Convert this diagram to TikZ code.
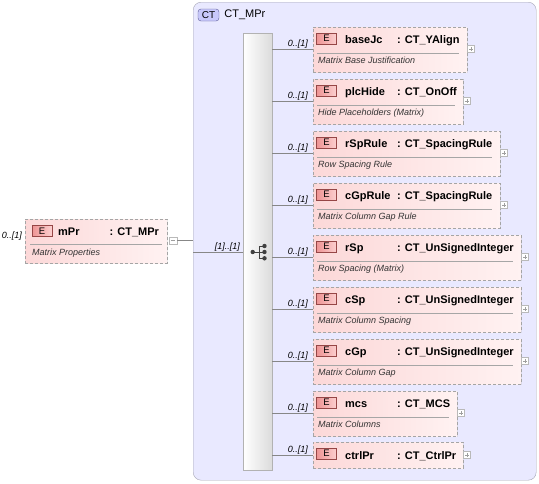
\documentclass[tikz,border=0pt]{standalone}
\usepackage{fontspec}
\setmainfont{Liberation Sans}
\usetikzlibrary{positioning,shadows}
\definecolor{ctfill}{RGB}{233,233,255}
\definecolor{ctedge}{RGB}{165,165,180}
\definecolor{elleft}{RGB}{252,216,216}
\definecolor{elright}{RGB}{255,242,242}
\definecolor{eledge}{RGB}{165,165,165}
\definecolor{badgeleft}{RGB}{238,148,148}
\definecolor{badgeright}{RGB}{252,208,208}
\definecolor{badgeedge}{RGB}{150,70,70}
\definecolor{ctbadgefill}{RGB}{200,200,250}
\definecolor{ctbadgeedge}{RGB}{90,90,150}
\definecolor{wire}{RGB}{135,135,135}

\tikzset{
	ctframe/.style={rectangle, rounded corners=8pt, draw=ctedge, fill=ctfill, anchor=north west, inner sep=0pt, minimum width=343pt, minimum height=478pt},
	ctbadge/.style={rectangle, rounded corners=3pt, draw=ctbadgeedge, fill=ctbadgefill, minimum width=21pt, minimum height=12pt, inner sep=0pt, font=\fontsize{10}{11}\selectfont},
	seqbar/.style={rectangle, draw=gray!60, left color=white, right color=gray!28, anchor=north west, inner sep=0pt, minimum width=29pt, minimum height=437pt},
	elembox/.style={rectangle, draw=eledge, dash pattern=on 3pt off 2pt, left color=elleft, right color=elright, anchor=north west, inner sep=0pt, minimum height=45pt, drop shadow={shadow xshift=1.2pt, shadow yshift=-1.2pt, opacity=0.18}},
	ebadge/.style={rectangle, draw=badgeedge, left color=badgeleft, right color=badgeright, minimum width=20pt, minimum height=11pt, inner sep=0pt, font=\fontsize{9.5}{10}\selectfont},
	ename/.style={anchor=base west, inner sep=0pt, font=\fontsize{11}{12}\selectfont\bfseries},
	edesc/.style={anchor=base west, inner sep=0pt, font=\fontsize{9}{10}\selectfont\itshape, text=black!80},
	mult/.style={anchor=base east, inner sep=0pt, font=\fontsize{9}{10}\selectfont\itshape},
	plusbox/.style={rectangle, draw=gray!55, fill=white, minimum size=7pt, inner sep=0pt,
		path picture={\draw[gray!75] ([yshift=-1.5pt]path picture bounding box.north) -- ([yshift=1.5pt]path picture bounding box.south)
			([xshift=1.5pt]path picture bounding box.west) -- ([xshift=-1.5pt]path picture bounding box.east);}},
	minusbox/.style={rectangle, draw=gray!55, fill=white, minimum size=7.5pt, inner sep=0pt,
		path picture={\draw[gray!75] ([xshift=1.5pt]path picture bounding box.west) -- ([xshift=-1.5pt]path picture bounding box.east);}},
	seqdot/.style={circle, fill=black!75, minimum size=4.4pt, inner sep=0pt},
	wireline/.style={draw=wire, line width=0.6pt},
	sepline/.style={draw=gray!70, line width=0.6pt}
}

\begin{document}
\begin{tikzpicture}[x=1pt,y=-1pt]
	\useasboundingbox (0,0) rectangle (539,483);

	% complex type frame
	\node[ctframe] (CT) at (193,2) {};
	\node[ctbadge] (ctb) at (208.5,15) {CT};
	\node[anchor=west, inner sep=0pt, font=\fontsize{11}{12}\selectfont, right=5pt of ctb] (ctn) {CT\_MPr};
	\node[seqbar] (seq) at (243,33) {};

	% sequence icon
	\node[seqdot] (sq) at (252.7,252) {};
	\node[seqdot] (sq1) at (264.5,246) {};
	\node[seqdot] (sq2) at (264.5,252) {};
	\node[seqdot] (sq3) at (264.5,258.3) {};
	\draw[black!75, line width=0.8pt] (sq.center) -- (sq2.center) (sq1.center) -| (259.5,258.3) -- (sq3.center);

	% root element
	\node[elembox, minimum width=142pt, minimum height=44pt] (mpr) at (25,219) {};
	\node[ebadge] (Em) at (42,231) {E};
	\node[ename] (nm) at (58,235.5) {mPr};
	\node[ename] (tym) at (109.5,235.5) {: CT\_MPr};
	\draw[sepline] (30,244) -- (162,244);
	\node[edesc] (dm) at (32,255) {Matrix Properties};
	\node[minusbox] (minus) at (173,240.5) {};
	\node[mult] at ([xshift=-3pt,yshift=2.5pt]mpr.west |- minus) {0..[1]};

	%Lines
	\draw[wireline] (minus.east) -- (CT.west |- minus);
	\draw[wireline] (CT.west |- sq) -- (seq.west |- sq);
	\node[mult] at ([xshift=-3pt,yshift=3pt]seq.west |- sq) {[1]..[1]};

	% child elements
	\foreach \i/\nm/\ty/\ds/\rx in {
		0/baseJc/CT\_YAlign/Matrix Base Justification/467,
		1/plcHide/CT\_OnOff/Hide Placeholders (Matrix)/463,
		2/rSpRule/CT\_SpacingRule/Row Spacing Rule/500,
		3/cGpRule/CT\_SpacingRule/Matrix Column Gap Rule/500,
		4/rSp/CT\_UnSignedInteger/Row Spacing (Matrix)/521,
		5/cSp/CT\_UnSignedInteger/Matrix Column Spacing/521,
		6/cGp/CT\_UnSignedInteger/Matrix Column Gap/521,
		7/mcs/CT\_MCS/Matrix Columns/457}
	{
		\pgfmathsetmacro\tp{27+52*\i}
		\pgfmathsetmacro\bw{\rx-313}
		\node[elembox, minimum width=\bw pt] (el\i) at (313,\tp) {};
		\node[ebadge] (E\i) at (326.5,\tp+11.5) {E};
		\node[ename] (n\i) at (345,\tp+16) {\nm};
		\node[ename] (ty\i) at (397,\tp+16) {: \ty};
		\draw[sepline] (317,\tp+26) -- (\rx-8,\tp+26);
		\node[edesc] (d\i) at (318,\tp+36.5) {\ds};
		\node[plusbox] (p\i) at (\rx+4,\tp+22) {};
		\draw[wireline] (seq.east |- p\i) -- (el\i.west |- p\i);
		\node[mult] at ([xshift=-5pt,yshift=3pt]el\i.west |- p\i) {0..[1]};
	}

	\node[elembox, minimum width=150pt, minimum height=26pt] (el8) at (313,442) {};
	\node[ebadge] (E8) at (326.5,453.5) {E};
	\node[ename] (n8) at (345,459) {ctrlPr};
	\node[ename] (ty8) at (397,459) {: CT\_CtrlPr};
	\node[plusbox] (p8) at (467,455) {};
	\draw[wireline] (seq.east |- p8) -- (el8.west |- p8);
	\node[mult] at ([xshift=-5pt,yshift=3pt]el8.west |- p8) {0..[1]};
\end{tikzpicture}
\end{document}
